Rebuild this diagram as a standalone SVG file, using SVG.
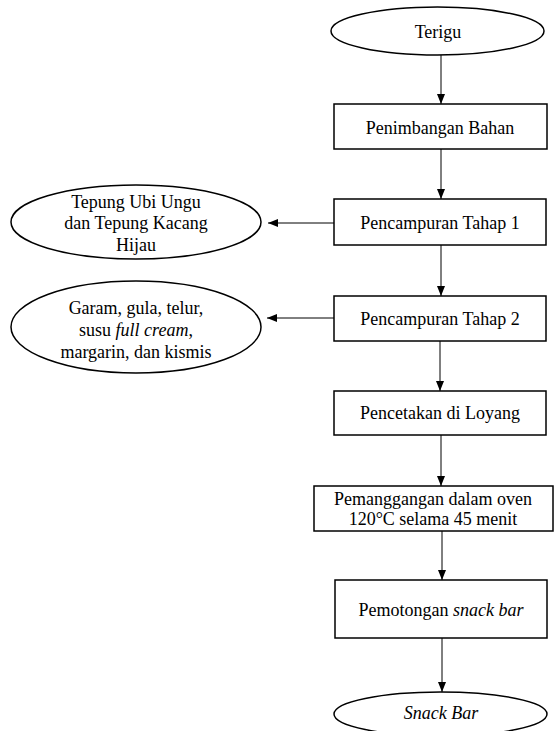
<svg xmlns="http://www.w3.org/2000/svg" width="557" height="731" viewBox="0 0 557 731">
<style>
.shape{fill:#fff;stroke:#000;stroke-width:1.5}
.t{font-family:"Liberation Serif","Times New Roman",serif;font-size:18px;fill:#000;text-anchor:middle}
.i{font-style:italic}
.c{stroke:#000;stroke-width:1;fill:none;marker-end:url(#ah)}
</style>
<defs>
<marker id="ah" markerWidth="10" markerHeight="10" viewBox="0 0 10 10" refX="10" refY="5" orient="auto" markerUnits="userSpaceOnUse">
<path d="M0,1 L10,5 L0,9 Z" fill="#000"/>
</marker>
</defs>
<rect width="557" height="731" fill="#fff"/>
<g id="connectors">
<line class="c" x1="441" y1="55" x2="441" y2="104"/>
<line class="c" x1="441" y1="149" x2="441" y2="199"/>
<line class="c" x1="441" y1="245" x2="441" y2="296"/>
<line class="c" x1="440" y1="341" x2="440" y2="391"/>
<line class="c" x1="441" y1="435" x2="441" y2="486"/>
<line class="c" x1="442" y1="531" x2="442" y2="580"/>
<line class="c" x1="442" y1="638" x2="442" y2="692"/>
<line class="c" x1="334" y1="223" x2="268" y2="223"/>
<line class="c" x1="334" y1="318" x2="267" y2="318"/>
</g>
<g id="terigu">
<ellipse class="shape" cx="437.5" cy="31" rx="106.5" ry="24"/>
<text class="t" x="438" y="38">Terigu</text>
</g>
<g id="penimbangan">
<rect class="shape" x="334" y="104" width="213" height="45"/>
<text class="t" x="440" y="134">Penimbangan Bahan</text>
</g>
<g id="pencampuran1">
<rect class="shape" x="334" y="199" width="212" height="46"/>
<text class="t" x="440" y="229">Pencampuran Tahap 1</text>
</g>
<g id="bahan1">
<ellipse class="shape" cx="136" cy="222" rx="125" ry="37"/>
<text class="t" x="136" y="208">Tepung Ubi Ungu</text>
<text class="t" x="136" y="229">dan Tepung Kacang</text>
<text class="t" x="136" y="251">Hijau</text>
</g>
<g id="pencampuran2">
<rect class="shape" x="334" y="296" width="212" height="45"/>
<text class="t" x="440" y="325">Pencampuran Tahap 2</text>
</g>
<g id="bahan2">
<ellipse class="shape" cx="136" cy="327" rx="125" ry="46"/>
<text class="t" x="136" y="314">Garam, gula, telur,</text>
<text class="t" x="136" y="336">susu <tspan class="i">full cream</tspan>,</text>
<text class="t" x="136" y="358">margarin, dan kismis</text>
</g>
<g id="pencetakan">
<rect class="shape" x="334" y="391" width="212" height="44"/>
<text class="t" x="440" y="419">Pencetakan di Loyang</text>
</g>
<g id="pemanggangan">
<rect class="shape" x="314" y="486" width="239" height="45"/>
<text class="t" x="433" y="505">Pemanggangan dalam oven</text>
<text class="t" x="433" y="525">120°C selama 45 menit</text>
</g>
<g id="pemotongan">
<rect class="shape" x="335" y="580" width="212" height="58"/>
<text class="t" x="441" y="616">Pemotongan <tspan class="i">snack bar</tspan></text>
</g>
<g id="snackbar">
<ellipse class="shape" cx="440.5" cy="714" rx="106.5" ry="22"/>
<text class="t i" x="441" y="719">Snack Bar</text>
</g>
</svg>
